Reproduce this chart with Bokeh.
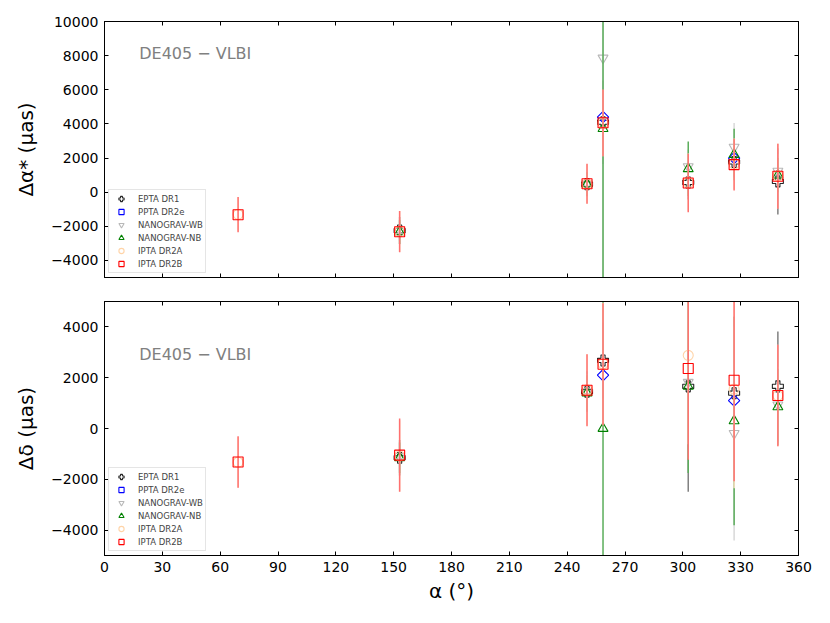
import numpy as np
from bokeh.plotting import figure
from bokeh.layouts import column
from bokeh.models import (ColumnDataSource, FixedTicker, Label, Legend, LegendItem,
                          LinearAxis, CustomJSTickFormatter, CustomLabelingPolicy, Range1d)
from bokeh.embed import file_html
from bokeh.resources import INLINE

nan = float("nan")

# Right ascension of the pulsars (deg)
RA = [69.3, 153.1, 250.3, 258.6, 302.8, 326.6, 349.3]

SERIES = ["EPTA DR1", "PPTA DR2e", "NANOGRAV-WB", "NANOGRAV-NB", "IPTA DR2A", "IPTA DR2B"]

# Delta alpha* (uas) and errors
EPTA_A = [nan, -2250, 470, 4100, 570, 1770, 630]
EPTA_A_ERR = [nan, 800, 700, 2450, 1000, 900, 1940]
PPTA_A = [nan, nan, nan, 4400, nan, 2000, nan]
PPTA_A_ERR = [nan, nan, nan, 600, nan, 400, nan]
NGWB_A = [nan, -2280, 500, 7860, 1500, 2640, 1230]
NGWB_A_ERR = [nan, 600, 800, 30000, 1000, 1410, 1000]
NGNB_A = [nan, -2330, 470, 3720, 1370, 2210, 1000]
NGNB_A_ERR = [nan, 700, 700, 40000, 1600, 1510, 1000]
IPTA2A_A = [-1300, -2300, 480, 4050, 560, 1650, 950]
IPTA2A_A_ERR = [1000, 1200, 1150, 1950, 1700, 1500, 1900]
IPTA2B_A = [-1320, -2315, 490, 4065, 540, 1615, 935]
IPTA2B_A_ERR = [1030, 1205, 1170, 1955, 1710, 1515, 1905]

# Delta delta (uas) and errors
EPTA_D = [nan, -1150, 1450, 2680, 1660, 1390, 1660]
EPTA_D_ERR = [nan, 700, 800, 1500, 4150, 3000, 2160]
PPTA_D = [nan, nan, nan, 2100, nan, 1100, nan]
PPTA_D_ERR = [nan, nan, nan, 500, nan, 500, nan]
NGWB_D = [nan, -1100, 1450, nan, 1820, -195, 930]
NGWB_D_ERR = [nan, 600, 700, nan, 3000, 4215, 1500]
NGNB_D = [nan, -1150, 1400, 0, 1660, 300, 850]
NGNB_D_ERR = [nan, 600, 700, 40000, 3410, 4110, 1500]
IPTA2A_D = [-1330, -1080, 1520, 2550, 2880, 1550, 1300]
IPTA2A_D_ERR = [1000, 1400, 1400, 2400, 3500, 3900, 2000]
IPTA2B_D = [-1320, -1050, 1505, 2530, 2360, 1900, 1300]
IPTA2B_D_ERR = [1010, 1440, 1415, 2400, 3590, 3980, 2000]

X_TICKS = [0, 30, 60, 90, 120, 150, 180, 210, 240, 270, 300, 330, 360]
Y_TICKS_TOP = [-4000, -2000, 0, 2000, 4000, 6000, 8000, 10000]
Y_TICKS_BOT = [-4000, -2000, 0, 2000, 4000]

FONT = "DejaVu Sans"

STYLES = [
    dict(marker="plus", size=11, angle=0.0, color="black", alpha=0.85, bar="#808080"),
    dict(marker="square", size=8, angle=np.pi / 4, color="blue", alpha=1.0, bar="#8080ff"),
    dict(marker="inverted_triangle", size=10, angle=0.0, color="#b8b8b8", alpha=1.0, bar="#d8d8d8"),
    dict(marker="triangle", size=10, angle=0.0, color="green", alpha=1.0, bar="#5aad5a"),
    dict(marker="circle", size=10, angle=0.0, color="#ffd4a8", alpha=1.0, bar="#ffe2c4"),
    dict(marker="square", size=10, angle=0.0, color="red", alpha=1.0, bar="#ff7070"),
]

minus_fmt = CustomJSTickFormatter(code="""
    return tick < 0 ? "\\u2212" + Math.abs(tick).toFixed(0) : tick.toFixed(0);
""")


def style_axis(ax, ticks, labels=True):
    ax.ticker = FixedTicker(ticks=ticks)
    ax.major_tick_in = 4
    ax.major_tick_out = 0
    ax.minor_tick_line_color = None
    ax.axis_line_color = "black"
    ax.major_tick_line_color = "black"
    ax.major_label_text_font = FONT
    ax.major_label_text_color = "black"
    if labels:
        ax.major_label_text_font_size = "14px"
        ax.major_label_standoff = 6
    else:
        ax.major_label_text_font_size = "1px"
        ax.major_label_standoff = 0
        ax.formatter = CustomJSTickFormatter(code="return ''")
        ax.major_label_policy = CustomLabelingPolicy(code="return new Set()")


def make_panel(vals, errs, yr, yticks, ylabel, xlabels, height, mb_top, mb_bottom, text_y):
    p = figure(width=822, height=height, output_backend="svg", toolbar_location=None,
               x_range=Range1d(0, 360), y_range=Range1d(*yr),
               min_border_left=104, min_border_right=24,
               min_border_top=mb_top, min_border_bottom=mb_bottom)
    p.grid.visible = False
    p.outline_line_color = "black"
    p.outline_line_width = 1
    p.background_fill_color = "white"
    p.border_fill_color = "white"

    style_axis(p.xaxis[0], X_TICKS, labels=xlabels)
    style_axis(p.yaxis[0], yticks)
    p.yaxis[0].formatter = minus_fmt
    p.yaxis.axis_label = ylabel
    p.yaxis.axis_label_text_font = FONT
    p.yaxis.axis_label_text_font_size = "20px"
    p.yaxis.axis_label_text_font_style = "normal"
    p.yaxis.axis_label_text_color = "black"
    p.yaxis.axis_label_standoff = 10
    if xlabels:
        p.xaxis.axis_label = "\u03b1 (\u00b0)"
        p.xaxis.axis_label_text_font = FONT
        p.xaxis.axis_label_text_font_size = "20px"
        p.xaxis.axis_label_text_font_style = "normal"
        p.xaxis.axis_label_text_color = "black"
        p.xaxis.axis_label_standoff = 4

    top_ax = LinearAxis()
    style_axis(top_ax, X_TICKS, labels=False)
    p.add_layout(top_ax, "above")
    right_ax = LinearAxis()
    style_axis(right_ax, yticks, labels=False)
    p.add_layout(right_ax, "right")

    items = []
    for name, v, e, st in zip(SERIES, vals, errs, STYLES):
        v = np.array(v, dtype=float)
        e = np.array(e, dtype=float)
        src = ColumnDataSource(dict(x=RA, y=v, lo=v - e, hi=v + e))
        p.segment(x0="x", y0="lo", x1="x", y1="hi", source=src,
                  line_color=st["bar"], line_width=1.5)
        r = p.scatter(x="x", y="y", source=src, marker=st["marker"], size=st["size"],
                      angle=st["angle"], line_color=st["color"], line_alpha=st["alpha"],
                      fill_color=None, line_width=1.1)
        items.append(LegendItem(label=name, renderers=[r]))

    leg = Legend(items=items, location="bottom_left", margin=4, padding=2, spacing=0,
                 glyph_height=13, glyph_width=20, label_height=13, label_standoff=7,
                 label_text_font=FONT, label_text_font_size="8.5px",
                 border_line_color="#cccccc", border_line_width=1,
                 background_fill_color="white", background_fill_alpha=0.8)
    p.add_layout(leg)

    p.add_layout(Label(x=18, y=text_y, text="DE405 \u2212 VLBI", text_color="#808080",
                       text_font=FONT, text_font_size="16px", text_baseline="middle"))
    return p


p1 = make_panel([EPTA_A, PPTA_A, NGWB_A, NGNB_A, IPTA2A_A, IPTA2B_A],
                [EPTA_A_ERR, PPTA_A_ERR, NGWB_A_ERR, NGNB_A_ERR, IPTA2A_A_ERR, IPTA2B_A_ERR],
                (-5000, 10000), Y_TICKS_TOP, "\u0394\u03b1* (\u03bcas)", False,
                289, 21, 12, 8100)
p2 = make_panel([EPTA_D, PPTA_D, NGWB_D, NGNB_D, IPTA2A_D, IPTA2B_D],
                [EPTA_D_ERR, PPTA_D_ERR, NGWB_D_ERR, NGNB_D_ERR, IPTA2A_D_ERR, IPTA2B_D_ERR],
                (-5000, 5000), Y_TICKS_BOT, "\u0394\u03b4 (\u03bcas)", True,
                316, 12, 48, 2900)

layout = column(p1, p2, spacing=0)
open("out.html", "w").write(file_html(layout, INLINE))
